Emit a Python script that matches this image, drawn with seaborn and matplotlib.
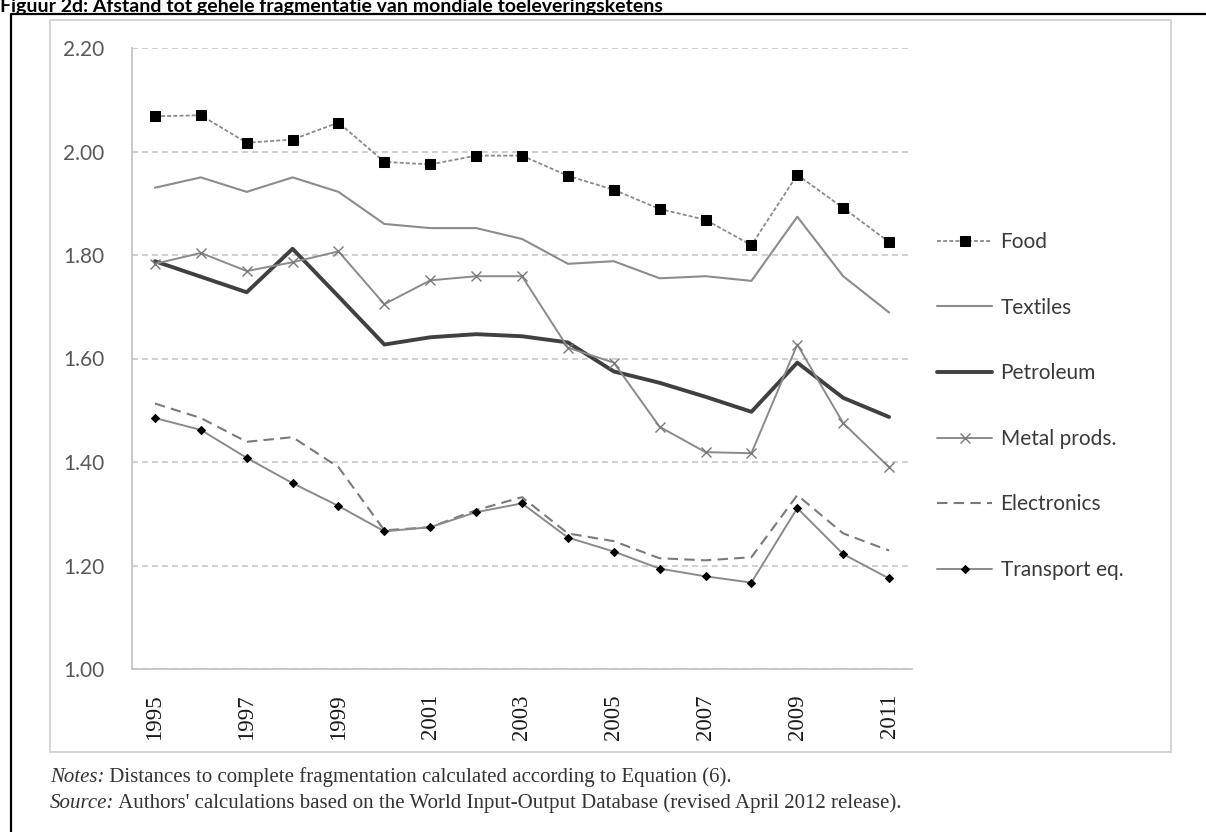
import matplotlib
matplotlib.use("Agg")
import matplotlib.pyplot as plt
from matplotlib.lines import Line2D
from matplotlib.patches import Rectangle
from matplotlib.ticker import FixedLocator, NullFormatter
import seaborn as sns
import pandas as pd

years = list(range(1995, 2012))
food = [2.068, 2.070, 2.017, 2.023, 2.056, 1.980, 1.975, 1.992, 1.992, 1.953,
        1.926, 1.889, 1.868, 1.819, 1.955, 1.891, 1.825]
textiles = [1.930, 1.950, 1.922, 1.950, 1.922, 1.860, 1.852, 1.852, 1.831, 1.783,
            1.788, 1.755, 1.759, 1.750, 1.874, 1.759, 1.689]
petroleum = [1.788, 1.758, 1.728, 1.812, 1.720, 1.627, 1.641, 1.647, 1.643, 1.631,
             1.575, 1.553, 1.526, 1.497, 1.592, 1.524, 1.487]
metal = [1.783, 1.804, 1.769, 1.786, 1.807, 1.705, 1.751, 1.759, 1.759, 1.621,
         1.592, 1.468, 1.419, 1.417, 1.627, 1.475, 1.390]
electronics = [1.513, 1.485, 1.439, 1.448, 1.390, 1.268, 1.274, 1.307, 1.332, 1.262,
               1.247, 1.214, 1.210, 1.216, 1.336, 1.262, 1.229]
transport = [1.485, 1.462, 1.408, 1.359, 1.315, 1.266, 1.274, 1.303, 1.320, 1.254,
             1.227, 1.194, 1.179, 1.167, 1.311, 1.222, 1.175]

sectors = ["Food", "Textiles", "Petroleum", "Metal prods.", "Electronics", "Transport eq."]
y_ticks = [1.00, 1.20, 1.40, 1.60, 1.80, 2.00, 2.20]
x_labels = [1995, 1997, 1999, 2001, 2003, 2005, 2007, 2009, 2011]

title = "Figuur 2d: Afstand tot gehele fragmentatie van mondiale toeleveringsketens"
notes_lead, notes_body = "Notes:", " Distances to complete fragmentation calculated according to Equation (6)."
source_lead, source_body = "Source:", " Authors' calculations based on the World Input-Output Database (revised April 2012 release)."

df = pd.DataFrame({"year": years, "Food": food, "Textiles": textiles,
                   "Petroleum": petroleum, "Metal prods.": metal,
                   "Electronics": electronics, "Transport eq.": transport})

sns.set_style("white")
plt.rcParams["font.family"] = ["Lato", "DejaVu Sans"]

W, H = 1206, 832
fig = plt.figure(figsize=(W / 100, H / 100), dpi=100)

def fx(px):
    return px / W

def fy(py):
    return 1 - py / H

# outer black frame (top and left edges visible)
fig.add_artist(Line2D([fx(11), 1.0], [fy(14), fy(14)], color="black", lw=1.6))
fig.add_artist(Line2D([fx(11), fx(11)], [fy(14), 0.0], color="black", lw=1.6))
# light chart-area border
fig.add_artist(Rectangle((fx(50), fy(752)), fx(1171) - fx(50), fy(20) - fy(752),
                         fill=False, edgecolor="#d4d4d4", lw=1.4))

ax = fig.add_axes([fx(132), fy(669), fx(912) - fx(132), fy(48) - fy(669)])

styles = {
    "Food": dict(color="#8a8a8a", lw=1.3, linestyle=(0, (2.2, 1.2)), marker="s",
                 markersize=7.5, markerfacecolor="black", markeredgecolor="black"),
    "Textiles": dict(color="#8c8c8c", lw=1.5, linestyle="-"),
    "Petroleum": dict(color="#404040", lw=2.8, linestyle="-"),
    "Metal prods.": dict(color="#8a8a8a", lw=1.4, linestyle="-", marker="x",
                         markersize=6.5, markeredgecolor="#7a7a7a", markeredgewidth=1.0),
    "Electronics": dict(color="#7a7a7a", lw=1.5, linestyle=(0, (5, 3))),
    "Transport eq.": dict(color="#8a8a8a", lw=1.4, linestyle="-", marker="D",
                          markersize=4.2, markerfacecolor="black", markeredgecolor="black"),
}

for name in sectors:
    sns.lineplot(data=df, x="year", y=name, ax=ax, label=name, **styles[name])

ax.set_xlim(1994.5, 2011.5)
ax.set_ylim(1.0, 2.2)
ax.set_xlabel("")
ax.set_ylabel("")

# y axis
ax.set_yticks(y_ticks)
ax.set_yticklabels([f"{v:.2f}" for v in y_ticks], fontsize=15, color="#595959")
ax.tick_params(axis="y", length=5, width=1.0, color="#bfbfbf", pad=15, direction="out")
ax.yaxis.grid(True, color="#c6c6c6", linestyle=(0, (3.5, 2.5)), lw=1.2)
ax.xaxis.grid(False)

# x axis: labels on odd years, tick marks on category boundaries
ax.set_xticks(x_labels)
ax.set_xticklabels([str(v) for v in x_labels], rotation=90, fontsize=16.5,
                   family=["Liberation Serif", "DejaVu Serif"], color="#1a1a1a")
ax.xaxis.set_minor_locator(FixedLocator([y - 0.5 for y in years] + [2011.5]))
ax.xaxis.set_minor_formatter(NullFormatter())
ax.tick_params(axis="x", which="major", length=0, pad=18)
ax.tick_params(axis="x", which="minor", length=5, width=1.0, color="#bfbfbf", direction="out")

for side in ["top", "right"]:
    ax.spines[side].set_visible(False)
for side in ["left", "bottom"]:
    ax.spines[side].set_color("#bfbfbf")
    ax.spines[side].set_linewidth(1.2)

handles, labels = ax.get_legend_handles_labels()
ax.get_legend().remove()
fig.legend(handles, labels, loc="center left", bbox_to_anchor=(fx(937), fy(406)),
           frameon=False, fontsize=15, handlelength=2.65, handletextpad=0.4,
           labelspacing=2.19, borderpad=0, borderaxespad=0, numpoints=1,
           labelcolor="#3a3a3a")

# title along the top edge
fig.text(fx(0), fy(12), title, fontsize=14, fontweight="bold", color="black",
         va="baseline", ha="left")

# notes and source lines
serif = ["Liberation Serif", "DejaVu Serif"]
for lead, body, py in [(notes_lead, notes_body, 782), (source_lead, source_body, 808)]:
    t = fig.text(fx(50), fy(py), lead, fontsize=15.0, style="italic", family=serif,
                 color="#333333", va="baseline", ha="left")
    ax.annotate(body, xy=(1, 0), xycoords=t, xytext=(0, 0), textcoords="offset points",
                fontsize=15.0, family=serif, color="#333333", va="bottom", ha="left",
                annotation_clip=False)

fig.savefig("out.png", dpi=100)
